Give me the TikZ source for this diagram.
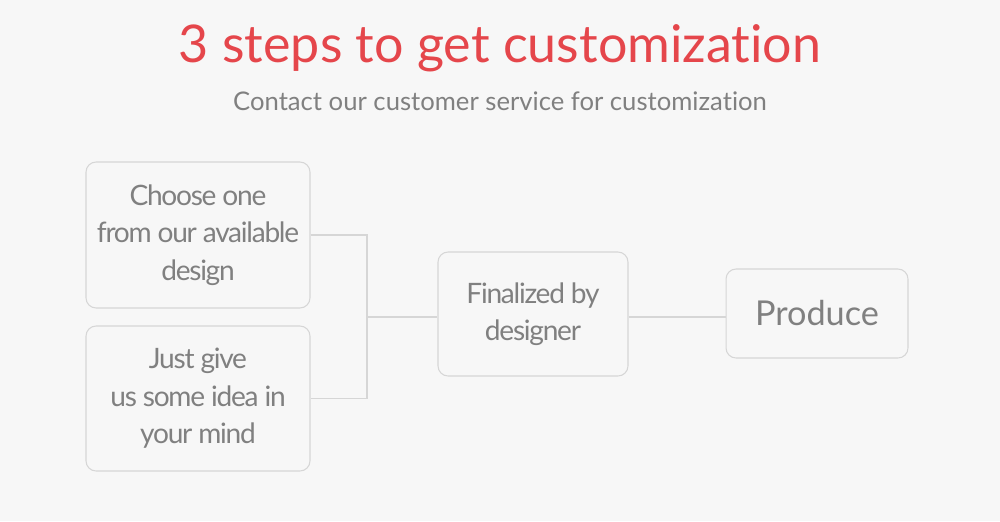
\documentclass[tikz,border=0pt]{standalone}
\usepackage{fontspec}
\setmainfont{Lato}[Ligatures=NoCommon]
\usepackage{xcolor}
\definecolor{titlered}{HTML}{E5464B}
\definecolor{textgray}{HTML}{808080}
\definecolor{linegray}{HTML}{D6D6D6}
\definecolor{pagebg}{HTML}{F7F7F7}
\usetikzlibrary{positioning}

\begin{document}
\begin{tikzpicture}[
      x=0.02cm, % one reference pixel, to the right
      y=-0.02cm, % one reference pixel, downwards
      box/.style={draw=linegray, line width=0.6pt, fill=pagebg, rounded corners=0.2cm,
                  inner sep=0pt, align=center, text=textgray},
      small/.style={font=\fontsize{16}{21.3}\selectfont\addfontfeature{LetterSpace=-4.5}},
      link/.style={draw=linegray, line width=0.6pt},
    ]

    % ---- page -----------------------------------------------------------
    \useasboundingbox[fill=pagebg] (0,0) rectangle (1000,521);

    % ---- heading --------------------------------------------------------
    \node[anchor=base, text=titlered, font=\fontsize{29.6}{34}\selectfont] (title) at (500,62)
      {3 steps to get customization};
    \node[anchor=base, text=textgray, font=\fontsize{14.6}{17}\selectfont] (subtitle) at (500,110)
      {Contact our customer service for customization};

    % ---- the two ways in ------------------------------------------------
    \node[box, small, minimum width=4.48cm, minimum height=2.92cm] (choose) at (198,235)
      {Choose one\\from our available\\design};
    \node[box, small, minimum width=4.48cm, minimum height=2.9cm] (idea) at (198,398.5)
      {Just give\\us some idea in\\your mind};

    % ---- designer and production ----------------------------------------
    \node[box, small, minimum width=3.8cm, minimum height=2.48cm] (final) at (533,314)
      {Finalized by\\designer};
    \node[box, font=\fontsize{19.5}{24}\selectfont, minimum width=3.64cm, minimum height=1.78cm] (produce) at (817,313.5)
      {Produce};

    % ---- connectors -----------------------------------------------------
    \coordinate (join) at (367,317);
    \draw[link] (choose.east) -| (join) |- (idea.east);
    \draw[link] (join) -- (final.west |- join);
    \draw[link] (final.east |- join) -- (produce.west |- join);
  \end{tikzpicture}
\end{document}
